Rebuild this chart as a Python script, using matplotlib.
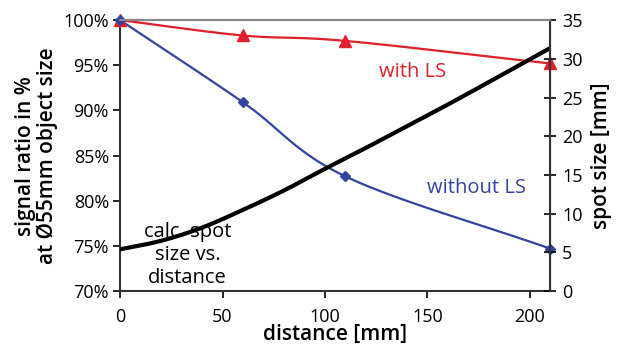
import numpy as np
import matplotlib.pyplot as plt

# measured points
dist = [0, 60, 110, 210]
with_ls = [100.0, 98.3, 97.7, 95.2]
without_ls = [100.0, 90.9, 82.7, 74.7]

# calculated spot size curve (right axis)
spot_x = [0, 20, 40, 60, 80, 100, 120, 140, 160, 180, 210]
spot_mm = [5.4, 6.5, 8.2, 10.5, 13.0, 15.8, 18.5, 21.3, 24.1, 27.0, 31.4]


def smooth(x, y, n=30):
    # catmull-rom through the points, like excel's smoothed line
    x = np.asarray(x, float)
    y = np.asarray(y, float)
    px = np.concatenate([[2*x[0]-x[1]], x, [2*x[-1]-x[-2]]])
    py = np.concatenate([[2*y[0]-y[1]], y, [2*y[-1]-y[-2]]])
    ox, oy = [], []
    t = np.linspace(0, 1, n)
    for i in range(1, len(px)-2):
        for p, o in ((px, ox), (py, oy)):
            p0, p1, p2, p3 = p[i-1], p[i], p[i+1], p[i+2]
            o.extend(0.5*((2*p1) + (-p0+p2)*t + (2*p0-5*p1+4*p2-p3)*t**2
                          + (-p0+3*p1-3*p2+p3)*t**3))
    return ox, oy


plt.rcParams['font.family'] = ['Open Sans', 'DejaVu Sans']
red = '#e0202a'
blue = '#3443a0'

fig = plt.figure(figsize=(6.19, 3.47), dpi=100)
ax = fig.add_axes([0.194, 0.161, 0.695, 0.781])
ax2 = ax.twinx()

sx, sy = smooth(dist, with_ls)
ax.plot(sx, sy, color=red, lw=1.6, zorder=3)
ax.plot(dist, with_ls, ls='none', marker='^', ms=8, color=red, zorder=4, clip_on=False)
sx, sy = smooth(dist, without_ls)
ax.plot(sx, sy, color=blue, lw=1.6, zorder=3)
ax.plot(dist, without_ls, ls='none', marker='D', ms=5, color=blue, zorder=4, clip_on=False)

bx, by = smooth(spot_x, spot_mm)
ax2.plot(bx, by, color='black', lw=3)

ax.set_xlim(0, 210)
ax.set_ylim(70, 100)
ax2.set_ylim(0, 35)
ax.set_xticks([0, 50, 100, 150, 200])
ax.set_yticks(range(70, 101, 5))
ax.set_yticklabels([f'{v}%' for v in range(70, 101, 5)])
ax2.set_yticks(range(0, 36, 5))

for a in (ax, ax2):
    a.tick_params(labelsize=13, length=5, width=1.2)
ax.tick_params(axis='x', pad=7)
ax.tick_params(axis='y', pad=3)
ax2.tick_params(axis='y', direction='inout', length=9, pad=4)
for s in ('left', 'bottom'):
    ax.spines[s].set_linewidth(1.5)
    ax.spines[s].set_color('#333333')
ax2.spines['right'].set_linewidth(1.5)
ax2.spines['right'].set_color('#333333')
for a in (ax, ax2):
    a.spines['top'].set_color('#888888')
    a.spines['top'].set_linewidth(1.5)
ax2.spines['left'].set_visible(False)
ax2.spines['bottom'].set_visible(False)

ax.set_xlabel('distance [mm]', fontsize=15, fontweight='semibold', labelpad=-1)
ax.set_ylabel('signal ratio in %\nat Ø55mm object size', fontsize=15,
              fontweight='semibold', linespacing=1.0, labelpad=4)
ax2.set_ylabel('spot size [mm]', fontsize=15, fontweight='semibold', labelpad=6)

ax.text(143, 94.3, 'with LS', color=red, fontsize=14.5, ha='center', va='center')
ax.text(174, 81.4, 'without LS', color=blue, fontsize=14.5, ha='center', va='center')
ax.text(33, 74.0, 'calc. spot\nsize vs.\ndistance', fontsize=14.5, ha='center',
        va='center', linespacing=1.2, zorder=5)

fig.savefig('out.png', dpi=100)
